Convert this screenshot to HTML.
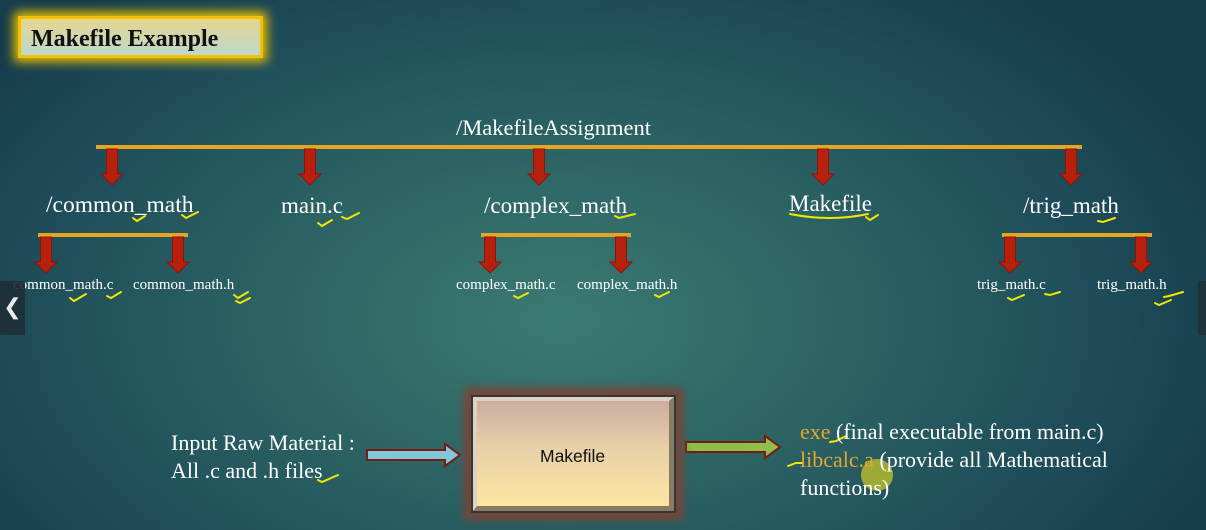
<!DOCTYPE html>
<html><head><meta charset="utf-8"><style>
html,body{margin:0;padding:0}
body{width:1206px;height:530px;overflow:hidden;position:relative;font-family:"Liberation Serif",serif;
background:radial-gradient(ellipse 700px 420px at 560px 320px,#3b7a72 0%,#2c6464 40%,#1f4e5a 75%,#173d4c 100%);}
.t{position:absolute;color:#fff;white-space:nowrap;line-height:1}
.big{font-size:23px}
.sm{font-size:15px}
svg{position:absolute;left:0;top:0}
</style></head><body>
<div style="position:absolute;left:18px;top:16px;width:245px;height:42px;border:3px solid #f2c200;box-shadow:0 0 10px 4px #e8c000;background:linear-gradient(#e6d690,#bcd8cc);box-sizing:border-box;">
<div style="position:absolute;left:10px;top:7px;font-size:24px;color:#111;font-weight:bold;font-family:'Liberation Serif',serif">Makefile Example</div></div>

<svg width="1206" height="530">
<defs><g id="ar"><polygon points="-5.5,0 5.5,0 5.5,25 11,25 0,36 -11,25 -5.5,25" fill="#b8200e" stroke="#8a1508" stroke-width="1"/></g></defs>
<rect x="96" y="145" width="986" height="4" fill="#e5a623"/>
<use href="#ar" x="112" y="149"/>
<use href="#ar" x="310" y="149"/>
<use href="#ar" x="539" y="149"/>
<use href="#ar" x="823" y="149"/>
<use href="#ar" x="1071" y="149"/>
<rect x="38" y="233" width="150" height="4" fill="#e5a623"/>
<rect x="481" y="233" width="150" height="4" fill="#e5a623"/>
<rect x="1002" y="233" width="150" height="4" fill="#e5a623"/>
<use href="#ar" x="46" y="237"/>
<use href="#ar" x="178" y="237"/>
<use href="#ar" x="490" y="237"/>
<use href="#ar" x="621" y="237"/>
<use href="#ar" x="1010" y="237"/>
<use href="#ar" x="1141" y="237"/>
<polygon points="367,450 445,450 445,444 460,455 445,466 445,460 367,460" fill="#7ec8da" stroke="#7a1a10" stroke-width="2"/>
<polygon points="686,442 765,442 765,436 780,447 765,458 765,452 686,452" fill="#8cc04a" stroke="#7a1a10" stroke-width="2"/>
<g fill="none" stroke="#f5e600" stroke-width="2" stroke-linecap="round">
<path d="M133,218 l4,3 l8,-5"/><path d="M182,215 l4,3 l12,-6"/><path d="M318,223 l4,3 l10,-6"/><path d="M342,217 l5,2 l12,-6"/>
<path d="M615,216 l4,2 l16,-4"/><path d="M1098,221 l5,1 l12,-4"/><path d="M790,214 q40,8 78,0"/><path d="M866,217 l4,3 l8,-5"/>
<path d="M70,298 l4,3 l12,-7"/><path d="M107,296 l4,2 l10,-6"/><path d="M234,295 l4,3 l10,-6 M236,301 l4,2 l10,-5"/>
<path d="M514,296 l4,2 l10,-5"/><path d="M655,295 l4,2 l10,-5"/><path d="M1008,298 l4,2 l12,-5"/><path d="M1045,294 l5,1 l10,-3"/><path d="M1155,303 l4,2 l12,-5 M1164,297 l5,-1 l14,-4"/>
<path d="M318,480 l4,2 l16,-7"/><path d="M600,470 l4,2 l14,-7"/><path d="M830,442 l6,-1 l10,-5"/><path d="M788,466 l8,-3 l6,0"/>
</g>
<circle cx="877" cy="475" r="16" fill="#c8c42a" opacity="0.75"/>
</svg>

<div class="t" style="left:456px;top:117px;font-size:22.5px">/MakefileAssignment</div>
<div class="t big" style="left:46px;top:194px;font-size:23.5px">/common_math</div>
<div class="t big" style="left:281px;top:194px">main.c</div>
<div class="t big" style="left:484px;top:194px">/complex_math</div>
<div class="t big" style="left:789px;top:192px">Makefile</div>
<div class="t big" style="left:1023px;top:194px">/trig_math</div>
<div class="t sm" style="left:13px;top:278px">common_math.c</div>
<div class="t sm" style="left:133px;top:278px">common_math.h</div>
<div class="t sm" style="left:456px;top:278px">complex_math.c</div>
<div class="t sm" style="left:577px;top:278px">complex_math.h</div>
<div class="t sm" style="left:977px;top:278px">trig_math.c</div>
<div class="t sm" style="left:1097px;top:278px">trig_math.h</div>

<div class="t" style="left:171px;top:429px;font-size:22px;line-height:28px">Input Raw Material :<br>All .c and .h files</div>

<div style="position:absolute;left:471px;top:395px;width:205px;height:118px;box-sizing:border-box;border:2px solid #2a3a3a;box-shadow:0 0 8px 7px #7a4438;background:linear-gradient(#c8aaa0,#e8d0a8 45%,#fde8a0);">
<div style="position:absolute;inset:0;border-style:solid;border-width:4px 5px 5px 4px;border-color:#e0d0c0 #8a7a60 #8a7a60 #e0d0c0"></div>
<div style="position:absolute;left:67px;top:49px;font-family:'Liberation Sans',sans-serif;font-size:17.5px;color:#111">Makefile</div></div>

<div class="t" style="left:800px;top:418px;font-size:22px;line-height:28px"><span style="color:#e2a830">exe</span> (final executable from main.c)<br><span style="color:#e2a830">libcalc.a</span> (provide all Mathematical<br>functions)</div>

<div style="position:absolute;left:0;top:281px;width:25px;height:54px;background:#1e2e36;opacity:0.9;color:#fff;font-family:'DejaVu Sans',sans-serif;font-size:22px;line-height:54px;text-align:center">&#10094;</div>
<div style="position:absolute;left:1198px;top:281px;width:8px;height:54px;background:#1e2e36;opacity:0.8"></div>
</body></html>
